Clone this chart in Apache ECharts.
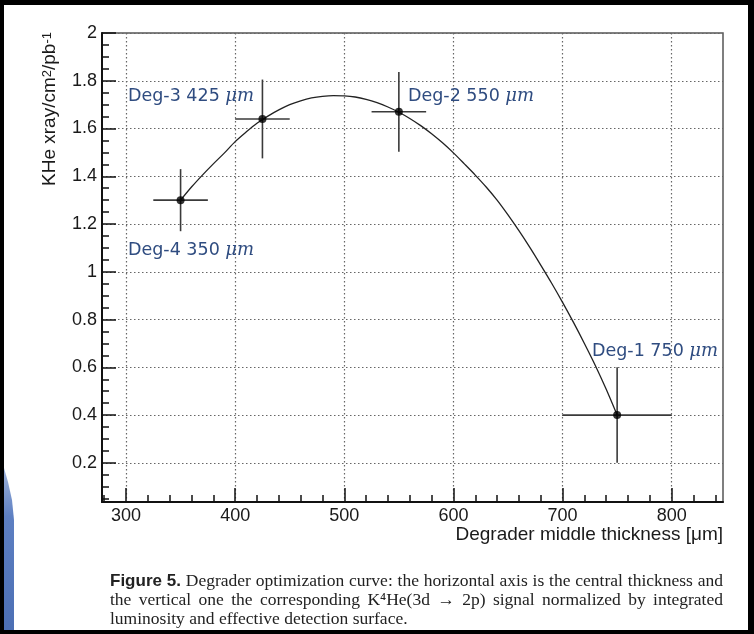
<!DOCTYPE html>
<html><head><meta charset="utf-8">
<script src="https://cdn.jsdelivr.net/npm/echarts@6/dist/echarts.min.js"></script>
<style>html,body{margin:0;padding:0;background:#fff}#c{width:754px;height:634px}</style>
</head><body><div id="c"></div>
<script>
// ---- data ----
const thickness = [350, 425, 550, 750];
const signal = [1.30, 1.64, 1.67, 0.40];
const thicknessErr = [25, 25, 25, 50];
const signalErr = [0.13, 0.165, 0.167, 0.20];
const degLabels = ['Deg-4 350', 'Deg-3 425', 'Deg-2 550', 'Deg-1 750'];
// fitted curve
const curveX = [350, 360, 370, 380, 390, 400, 410, 420, 430, 440, 450, 460, 470, 480, 490, 500, 510, 520, 530, 540, 550,
  560, 570, 580, 590, 600, 610, 620, 630, 640, 650, 660, 670, 680, 690, 700, 710, 720, 730, 740, 750];
const curveY = [1.300, 1.355, 1.405, 1.452, 1.497, 1.545, 1.585, 1.622, 1.652, 1.678, 1.700, 1.716, 1.728, 1.735, 1.738,
  1.737, 1.732, 1.722, 1.708, 1.690, 1.668, 1.642, 1.612, 1.578, 1.540, 1.498, 1.452, 1.405, 1.355, 1.300, 1.238,
  1.172, 1.102, 1.028, 0.952, 0.872, 0.788, 0.700, 0.608, 0.508, 0.400];
const xTicks = [300, 400, 500, 600, 700, 800];
const yTicks = [0.2, 0.4, 0.6, 0.8, 1, 1.2, 1.4, 1.6, 1.8, 2];
const xTitle = 'Degrader middle thickness [\u03bcm]';
const captionLine1 = 'Degrader optimization curve: the horizontal axis is the central thickness and';
const captionLine2 = 'the vertical one the corresponding K\u2074He(3d \u2192 2p) signal normalized by integrated';
const captionLine3 = 'luminosity and effective detection surface.';

// minor tick positions
const xMinor = []; for (let v = 280; v <= 840; v += 20) if (v % 100) xMinor.push(v);
const yMinor = []; for (let i = 1; i < 40; i++) if (i % 4) yMinor.push(+(i * 0.05).toFixed(2));

const X0 = 278, X1 = 847, Y0 = 0.036, Y1 = 2;
const chart = echarts.init(document.getElementById('c'), null, {renderer: 'canvas'});

// justify helper
const ctx = document.createElement('canvas').getContext('2d');
function justify(words, x0, x1, y) {
  const ws = words.map(w => { ctx.font = w.font; return ctx.measureText(w.t).width; });
  const sum = ws.reduce((a, b) => a + b, 0);
  const gap = (x1 - x0 - sum) / (words.length - 1);
  let x = x0; const out = [];
  words.forEach((w, i) => {
    out.push({type: 'text', x: x, y: y, style: {text: w.t, font: w.font, fill: '#222', textVerticalAlign: 'middle'}});
    x += ws[i] + gap;
  });
  return out;
}
const serif = '17.5px "Liberation Serif", "DejaVu Serif", serif';
const bold = 'bold 17px "Liberation Sans", Arial, sans-serif';
function natural(text, x0, y) {
  return [{type: 'text', x: x0, y: y, style: {text: text, font: serif, fill: '#222', textVerticalAlign: 'middle'}}];
}
const cap1 = justify([{t: 'Figure', font: bold}, {t: '5.', font: bold}].concat(captionLine1.split(' ').map(t => ({t, font: serif}))), 110, 723, 581);
const cap2 = justify(captionLine2.split(' ').map(t => ({t, font: serif})), 110, 723, 600);
const cap3 = natural(captionLine3, 110, 619);

const annFont = '"DejaVu Sans", sans-serif';
function ann(label, x, y) {
  return {type: 'text', x: x, y: y, z: 50, style: {
    text: label + ' {it|\u03bcm}', fill: '#2f4c80', fontSize: 17.5, fontFamily: annFont,
    textVerticalAlign: 'middle',
    rich: {it: {fontSize: 18, fontStyle: 'italic', fontFamily: '"DejaVu Serif", serif', fill: '#2f4c80'}}
  }};
}

const option = {
  backgroundColor: '#fff',
  animation: false,
  grid: {left: 102, right: 31, top: 33, bottom: 132, show: true, borderColor: '#555', borderWidth: 1.5, backgroundColor: 'transparent', outerBoundsMode: 'none'},
  xAxis: [{
    type: 'value', min: X0, max: X1, position: 'bottom',
    axisLine: {show: true, onZero: false, lineStyle: {color: '#111', width: 2}},
    axisTick: {show: true, inside: true, length: 14, customValues: xTicks, lineStyle: {color: '#111', width: 1.5}},
    axisLabel: {customValues: xTicks, fontSize: 18, color: '#1a1a1a', fontFamily: '"Liberation Sans", Arial, sans-serif', margin: 5},
    splitLine: {show: true, lineStyle: {color: '#666', width: 1.2, type: [1.5, 2.5]}}
  }, {
    type: 'value', min: X0, max: X1, position: 'bottom',
    axisLine: {show: false}, axisLabel: {show: false}, splitLine: {show: false},
    axisTick: {show: true, inside: true, length: 7, customValues: xMinor, lineStyle: {color: '#111', width: 1.5}}
  }],
  yAxis: [{
    type: 'value', min: Y0, max: Y1, position: 'left',
    axisLine: {show: true, onZero: false, lineStyle: {color: '#111', width: 2}},
    axisTick: {show: true, inside: true, length: 14, customValues: yTicks, lineStyle: {color: '#111', width: 1.5}},
    axisLabel: {customValues: yTicks, fontSize: 18, color: '#1a1a1a', fontFamily: '"Liberation Sans", Arial, sans-serif', margin: 5,
      formatter: v => String(+v.toFixed(2))},
    splitLine: {show: true, lineStyle: {color: '#666', width: 1.2, type: [1.5, 2.5]}}
  }, {
    type: 'value', min: Y0, max: Y1, position: 'left',
    axisLine: {show: false}, axisLabel: {show: false}, splitLine: {show: false},
    axisTick: {show: true, inside: true, length: 7, customValues: yMinor, lineStyle: {color: '#111', width: 1.5}}
  }],
  series: [{
    type: 'custom', xAxisIndex: 0, yAxisIndex: 0, z: 3,
    data: thickness.map((x, i) => [x, signal[i], thicknessErr[i], signalErr[i]]),
    renderItem: function (params, api) {
      const x = api.value(0), y = api.value(1), ex = api.value(2), ey = api.value(3);
      const l = api.coord([x - ex, y]), r = api.coord([x + ex, y]);
      const t = api.coord([x, y + ey]), b = api.coord([x, y - ey]);
      const st = {stroke: '#3a3a3a', lineWidth: 1.6};
      return {type: 'group', children: [
        {type: 'line', shape: {x1: l[0], y1: l[1], x2: r[0], y2: r[1]}, style: st},
        {type: 'line', shape: {x1: t[0], y1: t[1], x2: b[0], y2: b[1]}, style: st}
      ]};
    }
  }, {
    type: 'line', xAxisIndex: 0, yAxisIndex: 0, z: 4,
    data: curveX.map((x, i) => [x, curveY[i]]),
    smooth: 0.3, showSymbol: false, symbol: 'none',
    lineStyle: {color: '#222', width: 1.3}
  }, {
    type: 'scatter', xAxisIndex: 0, yAxisIndex: 0, z: 5,
    data: thickness.map((x, i) => [x, signal[i]]),
    symbolSize: 8, itemStyle: {color: '#000'}
  }],
  graphic: [
    // outer frame
    {type: 'rect', shape: {x: 0, y: 0, width: 754, height: 5}, style: {fill: '#000'}, z: 100},
    {type: 'rect', shape: {x: 0, y: 630, width: 754, height: 4}, style: {fill: '#000'}, z: 100},
    {type: 'rect', shape: {x: 0, y: 0, width: 4, height: 634}, style: {fill: '#000'}, z: 100},
    {type: 'rect', shape: {x: 748, y: 0, width: 6, height: 634}, style: {fill: '#000'}, z: 100},
    // blue artifact bottom-left
    {type: 'polygon', z: 90, shape: {points: [[4, 468], [8, 482], [12, 500], [14, 520], [14, 630], [4, 630]]},
      style: {fill: {type: 'linear', x: 0, y: 0, x2: 0, y2: 1, colorStops: [{offset: 0, color: '#9fb4dc'}, {offset: 0.3, color: '#5d7fc2'}, {offset: 1, color: '#4c6fb4'}]}}},
    // y axis title
    {type: 'text', x: 50, y: 186, rotation: Math.PI / 2, style: {
      text: 'KHe xray/cm{sup|2}/pb{sup|-1}', fontSize: 19, fontFamily: '"Liberation Sans", Arial, sans-serif', fill: '#1a1a1a',
      textAlign: 'left', textVerticalAlign: 'middle',
      rich: {sup: {fontSize: 13, verticalAlign: 'top', fontFamily: '"Liberation Sans", Arial, sans-serif', fill: '#1a1a1a'}}
    }},
    // x axis title
    {type: 'text', x: 723, y: 535, style: {text: xTitle, fontSize: 19, fontFamily: '"Liberation Sans", Arial, sans-serif', fill: '#1a1a1a', textAlign: 'right', textVerticalAlign: 'middle'}},
    ann(degLabels[1], 128, 96),
    ann(degLabels[0], 128, 250),
    ann(degLabels[2], 408, 96),
    ann(degLabels[3], 592, 351)
  ].concat(cap1, cap2, cap3)
};
chart.setOption(option);
</script>
</body></html>
